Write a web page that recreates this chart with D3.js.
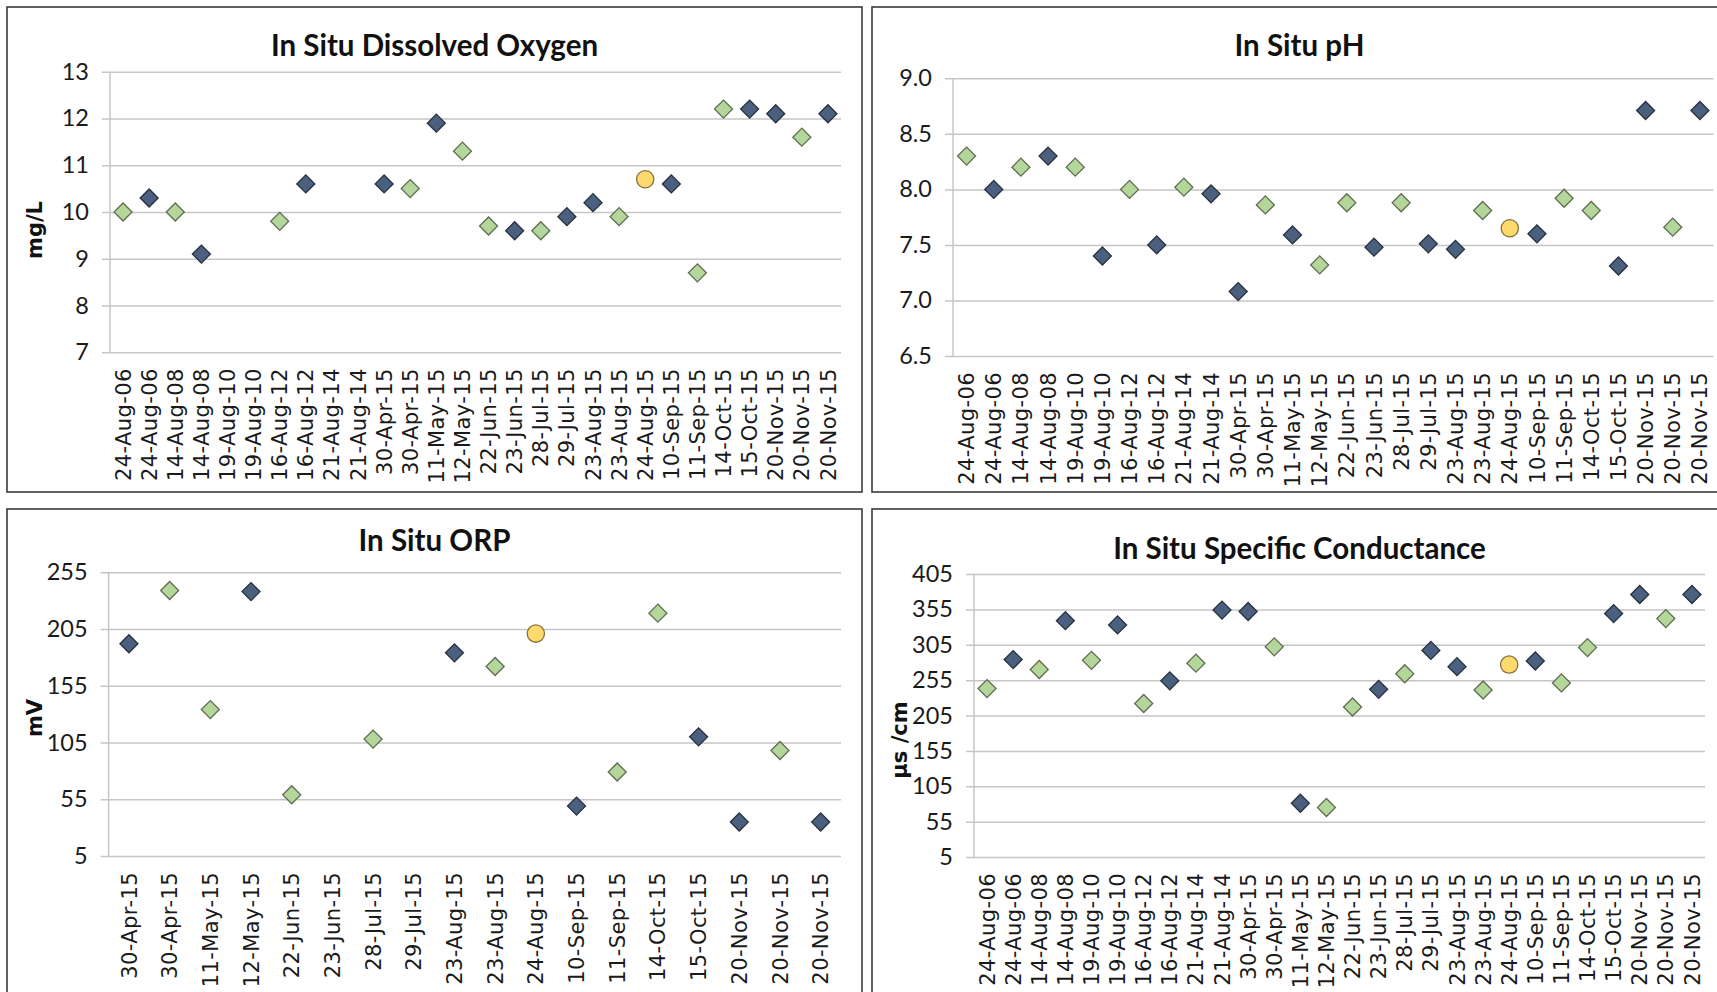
<!DOCTYPE html>
<html>
<head>
<meta charset="utf-8">
<script src="https://cdn.jsdelivr.net/npm/d3@7"></script>
<style>
  body { margin: 0; background: #fff; }
  svg { display: block; }
</style>
</head>
<body>
<div id="chart"></div>
<script>
// sampling dates (x categories)
const dates = ['24-Aug-06', '24-Aug-06', '14-Aug-08', '14-Aug-08', '19-Aug-10', '19-Aug-10',
  '16-Aug-12', '16-Aug-12', '21-Aug-14', '21-Aug-14', '30-Apr-15', '30-Apr-15', '11-May-15',
  '12-May-15', '22-Jun-15', '23-Jun-15', '28-Jul-15', '29-Jul-15', '23-Aug-15', '23-Aug-15',
  '24-Aug-15', '10-Sep-15', '11-Sep-15', '14-Oct-15', '15-Oct-15', '20-Nov-15', '20-Nov-15', '20-Nov-15']

const orpDates = ['30-Apr-15', '30-Apr-15', '11-May-15', '12-May-15', '22-Jun-15', '23-Jun-15',
  '28-Jul-15', '29-Jul-15', '23-Aug-15', '23-Aug-15', '24-Aug-15', '10-Sep-15', '11-Sep-15',
  '14-Oct-15', '15-Oct-15', '20-Nov-15', '20-Nov-15', '20-Nov-15']

const _ = null

// dissolved oxygen, mg/L
const doDark = [_, 10.3, _, 9.1, _, _, _, 10.6, _, _, 10.6, _, 11.9, _, _, 9.6, _, 9.9, 10.2, _, _, 10.6, _, _, 12.2, 12.1, _, 12.1]
const doGreen = [10.0, _, 10.0, _, _, _, 9.8, _, _, _, _, 10.5, _, 11.3, 9.7, _, 9.6, _, _, 9.9, _, _, 8.7, 12.2, _, _, 11.6, _]
const doYellow = [_, _, _, _, _, _, _, _, _, _, _, _, _, _, _, _, _, _, _, _, 10.7, _, _, _, _, _, _, _]

// pH
const phDark = [_, 8.0, _, 8.3, _, 7.4, _, 7.5, _, 7.96, 7.08, _, 7.59, _, _, 7.48, _, 7.51, 7.46, _, _, 7.6, _, _, 7.31, 8.71, _, 8.71]
const phGreen = [8.3, _, 8.2, _, 8.2, _, 8.0, _, 8.02, _, _, 7.86, _, 7.32, 7.88, _, 7.88, _, _, 7.81, _, _, 7.92, 7.81, _, _, 7.66, _]
const phYellow = [_, _, _, _, _, _, _, _, _, _, _, _, _, _, _, _, _, _, _, _, 7.65, _, _, _, _, _, _, _]

// ORP, mV
const orpDark = [192, _, _, 238, _, _, _, _, 184, _, _, 49, _, _, 110, 35, _, 35]
const orpGreen = [_, 239, 134, _, 59, _, 108, _, _, 172, _, _, 79, 219, _, _, 98, _]
const orpYellow = [_, _, _, _, _, _, _, _, _, _, 201, _, _, _, _, _, _, _]

// specific conductance, us/cm
const scDark = [_, 284, _, 339, _, 333, _, 254, _, 354, 352, _, 81, _, _, 242, _, 297, 274, _, _, 282, _, _, 349, 376, _, 376]
const scGreen = [243, _, 270, _, 283, _, 222, _, 279, _, _, 302, _, 75, 217, _, 264, _, _, 241, _, _, 251, 301, _, _, 342, _]
const scYellow = [_, _, _, _, _, _, _, _, _, _, _, _, _, _, _, _, _, _, _, _, 277, _, _, _, _, _, _, _]

const doTicks = [7, 8, 9, 10, 11, 12, 13]
const phTicks = [6.5, 7.0, 7.5, 8.0, 8.5, 9.0]
const orpTicks = [5, 55, 105, 155, 205, 255]
const scTicks = [5, 55, 105, 155, 205, 255, 305, 355, 405]

const svg = d3.select('#chart')
  .append('svg')
  .attr('width', 1717)
  .attr('height', 992)

svg.append('rect').attr('width', 1717).attr('height', 992).attr('fill', '#fff')

const styles = {
  dark: { fill: '#4b5f7e', stroke: '#283140', shape: 'diamond' },
  green: { fill: '#b4d69b', stroke: '#5f6e52', shape: 'diamond' },
  yellow: { fill: '#fed96c', stroke: '#84703f', shape: 'circle' }
}

const diamond = d3.symbol(d3.symbolSquare, 162)()
const circle = d3.symbol(d3.symbolCircle, 235)()

function drawPanel (p) {
  const g = svg.append('g')

  g.append('rect')
    .attr('x', p.frame[0]).attr('y', p.frame[1])
    .attr('width', p.frame[2]).attr('height', p.frame[3])
    .attr('fill', '#fff')
    .attr('stroke', '#3a3a3a')
    .attr('stroke-width', 1.6)

  const x = d3.scaleBand()
    .domain(d3.range(p.cats.length))
    .range([p.left, p.right])
    .padding(0)

  const y = d3.scaleLinear()
    .domain(p.domain)
    .range([p.bottom, p.top])

  // gridlines + tick labels
  const yAxis = g.append('g')
    .attr('transform', 'translate(' + (p.left - 8) + ',0)')
    .call(d3.axisLeft(y)
      .tickValues(p.ticks)
      .tickFormat(p.fmt)
      .tickSize(-(p.right - p.left + 8))
      .tickPadding(13))
  yAxis.select('.domain').remove()
  yAxis.selectAll('line').attr('stroke', '#c6c6c6').attr('stroke-width', 1.5)
  yAxis.selectAll('text')
    .attr('fill', '#1a1a1a')
    .style('font-family', 'Lato, "Open Sans", sans-serif')
    .style('font-size', '23.5px')

  // vertical axis line
  g.append('line')
    .attr('x1', p.left).attr('x2', p.left)
    .attr('y1', p.top).attr('y2', p.bottom)
    .attr('stroke', '#c6c6c6').attr('stroke-width', 1.5)

  // category labels
  const xAxis = g.append('g')
    .attr('transform', 'translate(0,' + p.bottom + ')')
    .call(d3.axisBottom(x).tickSize(0).tickFormat(i => p.cats[i]))
  xAxis.select('.domain').remove()
  xAxis.selectAll('text')
    .attr('transform', 'rotate(-90)')
    .attr('text-anchor', 'end')
    .attr('x', -16)
    .attr('y', 0)
    .attr('dy', '0.36em')
    .attr('fill', '#1a1a1a')
    .style('font-family', '"DejaVu Sans", Verdana, sans-serif')
    .style('font-size', '21px')
    .style('letter-spacing', '0.4px')

  // title
  g.append('text')
    .attr('x', p.frame[0] + p.frame[2] / 2)
    .attr('y', p.titleY)
    .attr('text-anchor', 'middle')
    .style('font-family', 'Lato, "Open Sans", sans-serif')
    .style('font-weight', 'bold')
    .style('font-size', '29.5px')
    .attr('fill', '#111')
    .text(p.title)

  if (p.yLabel) {
    g.append('text')
      .attr('transform', 'translate(' + p.yLabel[1] + ',' + p.yLabel[2] + ') rotate(-90)')
      .attr('text-anchor', 'middle')
      .attr('dy', '0.36em')
      .style('font-family', '"DejaVu Sans", Verdana, sans-serif')
      .style('font-weight', 'bold')
      .style('font-size', '21px')
      .attr('fill', '#111')
      .text(p.yLabel[0])
  }

  // markers, one series at a time
  p.series.forEach(s => {
    const st = styles[s.key]
    const pts = s.values
      .map((v, i) => ({ i: i, v: v }))
      .filter(d => d.v !== null)
    g.append('g')
      .selectAll('path')
      .data(pts)
      .enter()
      .append('path')
      .attr('d', st.shape === 'diamond' ? diamond : circle)
      .attr('transform', d => {
        const cx = x(d.i) + x.bandwidth() / 2
        const cy = y(d.v)
        return 'translate(' + cx + ',' + cy + ')' + (st.shape === 'diamond' ? ' rotate(45)' : '')
      })
      .attr('fill', st.fill)
      .attr('stroke', st.stroke)
      .attr('stroke-width', 1.3)
  })
}

drawPanel({
  frame: [7, 7, 855, 485],
  left: 110, right: 841, top: 71.7, bottom: 352.3,
  cats: dates, domain: [7, 13], ticks: doTicks, fmt: d3.format('d'),
  title: 'In Situ Dissolved Oxygen', titleY: 56,
  yLabel: ['mg/L', 34, 230],
  series: [{ key: 'dark', values: doDark }, { key: 'green', values: doGreen }, { key: 'yellow', values: doYellow }]
})

drawPanel({
  frame: [872, 7, 855, 485],
  left: 953, right: 1713.5, top: 78.3, bottom: 356,
  cats: dates, domain: [6.5, 9.0], ticks: phTicks, fmt: d3.format('.1f'),
  title: 'In Situ pH', titleY: 56,
  yLabel: null,
  series: [{ key: 'dark', values: phDark }, { key: 'green', values: phGreen }, { key: 'yellow', values: phYellow }]
})

drawPanel({
  frame: [7, 509, 855, 490],
  left: 108.6, right: 841, top: 572.3, bottom: 856,
  cats: orpDates, domain: [5, 255], ticks: orpTicks, fmt: d3.format('d'),
  title: 'In Situ ORP', titleY: 551,
  yLabel: ['mV', 34, 718],
  series: [{ key: 'dark', values: orpDark }, { key: 'green', values: orpGreen }, { key: 'yellow', values: orpYellow }]
})

drawPanel({
  frame: [872, 509, 855, 490],
  left: 974, right: 1705, top: 574, bottom: 857,
  cats: dates, domain: [5, 405], ticks: scTicks, fmt: d3.format('d'),
  title: 'In Situ Specific Conductance', titleY: 559,
  yLabel: ['µs /cm', 899, 740],
  series: [{ key: 'dark', values: scDark }, { key: 'green', values: scGreen }, { key: 'yellow', values: scYellow }]
})
</script>
</body>
</html>
